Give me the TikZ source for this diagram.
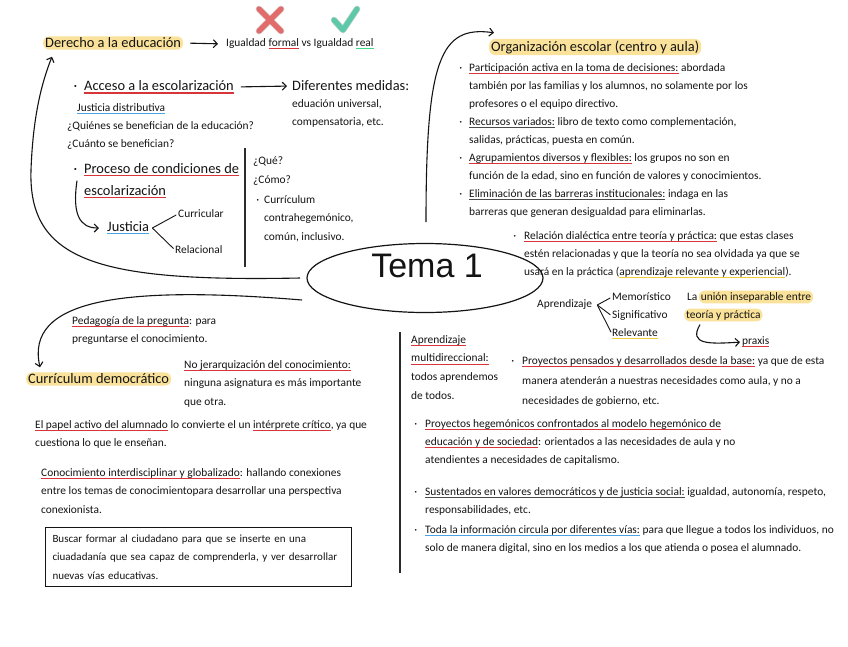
\documentclass[tikz,border=0pt]{standalone}
\usepackage{fontspec}
\setmainfont{Carlito}
\newfontfamily\temafont{Liberation Sans}
\usepackage{xcolor}
\usepackage{tikz}
\usetikzlibrary{shapes.geometric,arrows.meta,positioning}
\definecolor{tinta}{HTML}{141414}
\definecolor{resaltado}{HTML}{FAE29A}
\definecolor{rojo}{HTML}{D8353A}
\definecolor{azul}{HTML}{4BA3E3}
\definecolor{amarillo}{HTML}{F3CB3C}
\definecolor{gris}{HTML}{4A4A4A}
\definecolor{verde}{HTML}{3FD98E}
\definecolor{cruz}{HTML}{E26B6B}
\definecolor{visto}{HTML}{5DC9A8}

\newsavebox\cajasub
\newcommand\subrayado[3]{\sbox\cajasub{#3}\rlap{\textcolor{#1}{\rule[-3pt]{\wd\cajasub}{#2}}}\usebox\cajasub}
\newcommand\subrojo[1]{\subrayado{rojo}{1.3pt}{#1}}
\newcommand\subazul[1]{\subrayado{azul}{1.3pt}{#1}}
\newcommand\subamarillo[1]{\subrayado{amarillo}{1.6pt}{#1}}
\newcommand\subgris[1]{\subrayado{gris}{1.2pt}{#1}}
\newcommand\subverde[1]{\subrayado{verde}{1.6pt}{#1}}

\begin{document}
\begin{tikzpicture}[
    x=1pt, y=-1pt,
    texto/.style={font=\fontsize{11.4}{18}\selectfont, text=tinta, inner sep=0pt, align=left, anchor=north west},
    titulo/.style={font=\fontsize{14.4}{22}\selectfont, text=tinta, inner sep=0pt, align=left, anchor=west},
    resalto/.style={fill=resaltado, rounded corners=6pt, inner xsep=2pt, inner ysep=1.5pt},
    caja/.style={texto, draw=tinta, line width=1pt, inner xsep=7pt, inner ysep=4pt, text width=292pt, minimum height=59pt},
    flecha/.style={->, >={Straight Barb[length=4pt, width=8pt]}, line width=1.1pt, color=tinta},
    rama/.style={line width=0.9pt, color=tinta, shorten >=2pt},
    separador/.style={line width=1.3pt, color=tinta!90}
]
\useasboundingbox[fill=white] (0,0) rectangle (848,646);

    % Tema central
    \node[ellipse, draw=tinta, line width=1.2pt, minimum width=236pt, minimum height=69pt] (tema) at (425,278) {};
    \node[font=\temafont\fontsize{34}{34}\selectfont, text=tinta, inner sep=0pt] (temaTxt) at (427,266) {Tema 1};
    \coordinate (salidaA) at (300,278);
    \coordinate (salidaB) at (302,300);
    \coordinate (salidaC) at (426,222);

    % Derecho a la educacion
    \node[titulo, resalto] (derecho) at (43,43) {Derecho a la educación};
    \node[texto, anchor=west] (igualdad) at (226,44) {Igualdad \subrojo{formal} vs Igualdad \subverde{real}};
    \draw[cruz!60!black, line width=6.5pt, line cap=round, opacity=0.35] (259,9) -- (281,31) (281,9) -- (259,31);
    \draw[cruz, line width=5pt, line cap=round] (259,9) -- (281,31) (281,9) -- (259,31);
    \draw[visto!60!black, line width=6.5pt, line cap=round, line join=round, opacity=0.35] (334,20) -- (343,30) -- (357,9);
    \draw[visto, line width=5pt, line cap=round, line join=round] (334,20) -- (343,30) -- (357,9);

    \node[titulo] (acceso) at (84,87) {\llap{·\hspace{7pt}}\subrojo{Acceso a la escolarización}};
    \node[titulo] (diferentes) at (292,86) {Diferentes medidas:};
    \node[texto] (medidas) at (292,99) {eduación universal,\\compensatoria, etc.};
    \node[texto, anchor=west] (justDist) at (77,109) {\subazul{Justicia distributiva}};
    \node[texto] (quienes) at (67,121) {¿Quiénes se benefician de la educación?\\¿Cuánto se benefician?};

    \node[titulo, anchor=north west] (proceso) at (84,163) {\llap{·\hspace{7pt}}\subrojo{Proceso de condiciones de}\\\subrojo{escolarización}};
    \node[titulo] (justicia) at (107,228) {\subazul{Justicia}};
    \node[texto, anchor=west] (curricular) at (178,214) {Curricular};
    \node[texto, anchor=west] (relacional) at (175,250) {Relacional};

    \node[texto, font=\fontsize{11.4}{18.5}\selectfont] (queComo) at (253,157) {¿Qué?\\¿Cómo?};
    \node[texto, font=\fontsize{11.4}{18.5}\selectfont] (contra) at (264,195) {\llap{·\hspace{5pt}}Currículum\\contrahegemónico,\\común, inclusivo.};
    \draw[separador] (245,148) -- (245,267);

    % Organizacion escolar
    \node[titulo, resalto] (orga) at (489,47) {Organización escolar (centro y aula)};
    \node[texto] (listaOrga) at (469,63) {\llap{·\hspace{7pt}}\subrojo{Participación activa en la toma de decisiones:} abordada\\
        también por las familias y los alumnos, no solamente por los\\
        profesores o el equipo directivo.\\
        \llap{·\hspace{7pt}}\subgris{Recursos variados:} libro de texto como complementación,\\
        salidas, prácticas, puesta en común.\\
        \llap{·\hspace{7pt}}\subrojo{Agrupamientos diversos y flexibles:} los grupos no son en\\
        función de la edad, sino en función de valores y conocimientos.\\
        \llap{·\hspace{7pt}}\subgris{Eliminación de las barreras institucionales:} indaga en las\\
        barreras que generan desigualdad para eliminarlas.};
    \node[texto] (relacion) at (524,231) {\llap{·\hspace{8pt}}\subrojo{Relación dialéctica entre teoría y práctica:} que estas clases\\
        estén relacionadas y que la teoría no sea olvidada ya que se\\
        usará en la práctica (\subamarillo{aprendizaje relevante y experiencial}).};

    \node[texto, anchor=west] (aprendizaje) at (537,305) {Aprendizaje};
    \node[texto, anchor=west] (memo) at (612,297) {Memorístico};
    \node[texto, anchor=west] (signi) at (612,316) {Significativo};
    \node[texto, anchor=west] (relev) at (612,334) {\subamarillo{Relevante}};
    \node[texto, anchor=west] (la) at (687,297) {La};
    \node[texto, resalto, right=1pt of la] (union) {unión inseparable entre};
    \node[texto, resalto, anchor=west] (teoria) at (684,315) {teoría y práctica};
    \node[texto, anchor=west] (praxis) at (742,342) {\subrojo{praxis}};

    % Curriculum democratico
    \node[texto] (pedagogia) at (72,316) {\subrojo{Pedagogía de la pregunta}: para\\preguntarse el conocimiento.};
    \node[titulo, resalto] (curriculum) at (26,379) {Currículum democrático};
    \node[texto, font=\fontsize{11.4}{18.5}\selectfont] (jerarquia) at (184,360) {\subrojo{No jerarquización del conocimiento:}\\ninguna asignatura es más importante\\que otra.};
    \node[texto] (papel) at (35,420) {\subrojo{El papel activo del alumnado} lo convierte el un \subrojo{intérprete crítico}, ya que\\cuestiona lo que le enseñan.};
    \node[texto, font=\fontsize{11.4}{18.5}\selectfont] (conocimiento) at (41,468) {\subrojo{Conocimiento interdisciplinar y globalizado}: hallando conexiones\\
        entre los temas de conocimientopara desarrollar una perspectiva\\conexionista.};
    \node[caja, font=\fontsize{11}{18.5}\selectfont] (buscar) at (45,527) {Buscar formar al ciudadano para que se inserte en una\\
        ciuadadanía que sea capaz de comprenderla, y ver \mbox{desarrollar}\\nuevas vías educativas.};

    % Aprendizaje multidireccional
    \draw[separador] (400,332) -- (400,573);
    \node[texto, font=\fontsize{11.4}{18.7}\selectfont] (multi) at (411,335) {\subrojo{Aprendizaje}\\\subrojo{multidireccional:}\\todos aprendemos\\de todos.};
    \node[texto, font=\fontsize{11.4}{20}\selectfont] (proyectos) at (522,356) {\llap{·\hspace{8pt}}\subrojo{Proyectos pensados y desarrollados desde la base:} ya que de esta\\
        manera atenderán a nuestras necesidades como aula, y no a\\necesidades de gobierno, etc.};
    \node[texto] (hegemonicos) at (425,419) {\llap{·\hspace{8pt}}\subrojo{Proyectos hegemónicos confrontados al modelo hegemónico de}\\
        \subrojo{educación y de sociedad}: orientados a las necesidades de aula y no\\
        atendientes a necesidades de capitalismo.};
    \node[texto] (valores) at (425,487) {\llap{·\hspace{8pt}}\subgris{Sustentados en valores democráticos y de justicia social:} igualdad, autonomía, respeto,\\
        responsabilidades, etc.\\[2pt]
        \llap{·\hspace{8pt}}\subazul{Toda la información circula por diferentes vías:} para que llegue a todos los individuos, no\\
        solo de manera digital, sino en los medios a los que atienda o posea el alumnado.};

    % Flechas
    \draw[flecha, shorten <=7pt, shorten >=8pt] (derecho.east) -- (igualdad.west);
    \draw[flecha, shorten <=7pt, shorten >=5pt] (acceso.east) -- (diferentes.west);
    \draw[flecha, shorten >=8pt] ([xshift=-7pt]proceso.west) .. controls (72,215) and (80,228) .. (justicia.west);
    \draw[rama] ([xshift=3pt]justicia.east) -- (curricular.west);
    \draw[rama] ([xshift=3pt]justicia.east) -- (relacional.west);
    \draw[rama] ([xshift=5pt]aprendizaje.east) -- (memo.west);
    \draw[rama] ([xshift=5pt]aprendizaje.east) -- (signi.west);
    \draw[rama] ([xshift=5pt]aprendizaje.east) -- (relev.west);
    \draw[flecha, shorten >=2pt] ([xshift=16pt,yshift=-3pt]teoria.south west) .. controls (688,345) and (710,344) .. (praxis.west);

    \draw[flecha] (salidaA) .. controls (100,282) and (28,262) .. (31,170) .. controls (33,115) and (42,82) .. ([xshift=9pt,yshift=-7pt]derecho.south west);
    \draw[flecha] (salidaB) .. controls (120,285) and (25,300) .. ([xshift=14pt,yshift=5pt]curriculum.north west);
    \draw[flecha] (salidaC) .. controls (426,60) and (440,25) .. ([xshift=5pt,yshift=6pt]orga.north west);
\end{tikzpicture}
\end{document}
